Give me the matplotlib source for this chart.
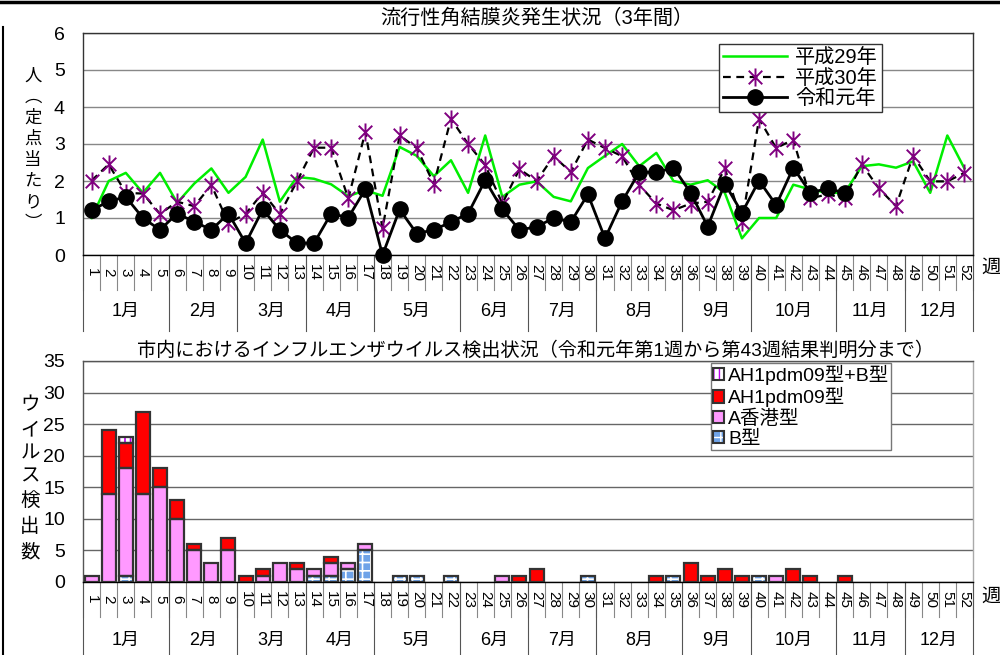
import matplotlib
matplotlib.use("Agg")
import matplotlib.pyplot as plt
from matplotlib.lines import Line2D
from matplotlib.patches import Patch
from matplotlib.path import Path
from matplotlib.transforms import blended_transform_factory

plt.rcParams['font.family'] = ['Liberation Sans', 'Noto Sans CJK JP']

# ---- data ----
weeks = list(range(1, 53))
months = ["1月", "2月", "3月", "4月", "5月", "6月",
          "7月", "8月", "9月", "10月", "11月", "12月"]
month_weeks = [5, 4, 4, 4, 5, 4, 4, 5, 4, 5, 4, 4]

# 流行性角結膜炎 (定点当たり)
h29 = [1.0, 2.0, 2.22, 1.68, 2.22, 1.41, 1.93, 2.34, 1.68, 2.11,
       3.12, 1.44, 2.11, 2.06, 1.91, 1.59, 1.75, 1.6, 2.92, 2.68,
       2.13, 2.56, 1.68, 3.23, 1.57, 1.9, 1.99, 1.57, 1.45, 2.35,
       2.68, 3.0, 2.4, 2.76, 2.0, 1.9, 2.02, 1.68, 0.45, 1.0,
       1.0, 1.9, 1.77, 1.68, 1.68, 2.4, 2.45, 2.36, 2.53, 1.68,
       3.23, 2.34]
h30 = [2.01, 2.45, 1.68, 1.66, 1.11, 1.44, 1.32, 1.89, 0.86, 1.11,
       1.68, 1.11, 1.99, 2.9, 2.9, 1.53, 3.33, 0.72, 3.23, 2.89,
       1.92, 3.68, 3.0, 2.43, 1.39, 2.32, 2.0, 2.67, 2.24, 3.12,
       2.89, 2.67, 1.89, 1.39, 1.21, 1.39, 1.44, 2.34, 0.89, 3.68,
       2.89, 3.12, 1.53, 1.64, 1.53, 2.45, 1.8, 1.32, 2.68, 1.99,
       1.99, 2.22]
r1 = [1.21, 1.45, 1.57, 1.0, 0.68, 1.12, 0.9, 0.68, 1.12, 0.32,
      1.23, 0.68, 0.32, 0.32, 1.12, 1.01, 1.78, 0.0, 1.23, 0.58,
      0.68, 0.89, 1.12, 2.02, 1.23, 0.68, 0.76, 1.0, 0.89, 1.64,
      0.45, 1.45, 2.24, 2.23, 2.36, 1.68, 0.77, 1.93, 1.14, 2.01,
      1.35, 2.36, 1.68, 1.8, 1.68]

# インフルエンザウイルス検出数
flu_b = [0, 0, 1, 0, 0, 0, 0, 0, 0, 0, 0, 0, 0, 1, 1, 2, 5, 0, 1, 1,
         0, 1, 0, 0, 0, 0, 0, 0, 0, 1, 0, 0, 0, 0, 1, 0, 0, 0, 0, 1,
         0, 0, 0, 0, 0, 0, 0, 0, 0, 0, 0, 0]
flu_hk = [1, 14, 17, 14, 15, 10, 5, 3, 5, 0, 1, 3, 2, 1, 2, 1, 1, 0, 0, 0,
          0, 0, 0, 0, 1, 0, 0, 0, 0, 0, 0, 0, 0, 0, 0, 0, 0, 0, 0, 0,
          1, 0, 0, 0, 0, 0, 0, 0, 0, 0, 0, 0]
flu_ah1 = [0, 10, 4, 13, 3, 3, 1, 0, 2, 1, 1, 0, 1, 0, 1, 0, 0, 0, 0, 0,
           0, 0, 0, 0, 0, 1, 2, 0, 0, 0, 0, 0, 0, 1, 0, 3, 1, 2, 1, 0,
           0, 2, 1, 0, 1, 0, 0, 0, 0, 0, 0, 0]
flu_ah1b = [0, 0, 1, 0, 0, 0, 0, 0, 0, 0, 0, 0, 0, 0, 0, 0, 0, 0, 0, 0,
            0, 0, 0, 0, 0, 0, 0, 0, 0, 0, 0, 0, 0, 0, 0, 0, 0, 0, 0, 0,
            0, 0, 0, 0, 0, 0, 0, 0, 0, 0, 0, 0]

W, H = 1000, 655
fig = plt.figure(figsize=(10, 6.55), dpi=100)


def px_axes(left, top, right, bottom):
    return fig.add_axes([left / W, 1 - bottom / H, (right - left) / W, (bottom - top) / H])


def week_axis(ax, band_px, month_px, height_px):
    tr = blended_transform_factory(ax.transData, ax.transAxes)
    wb = -band_px / height_px
    mb = -month_px / height_px
    for w in weeks:
        ax.text(w, wb / 2, str(w), rotation=-90, ha='center', va='center',
                fontsize=11, transform=tr, clip_on=False)
    for i in range(53):
        ax.plot([i + 0.5, i + 0.5], [0, wb], color='#888888', lw=0.8,
                transform=tr, clip_on=False)
    edge = 0.5
    ax.plot([edge, edge], [0, mb], color='#555555', lw=0.8, transform=tr, clip_on=False)
    for name, n in zip(months, month_weeks):
        ax.text(edge + n / 2, (wb + mb) / 2 - 0.005, name, ha='center', va='center',
                fontsize=13, transform=tr, clip_on=False)
        edge += n
        ax.plot([edge, edge], [0, mb], color='#555555', lw=0.8, transform=tr, clip_on=False)
    ax.set_xticks([])


# ---------------- top chart ----------------
ax1 = px_axes(83, 33, 973, 255)
ax1.set_xlim(0.5, 52.5)
ax1.set_ylim(0, 6)
ax1.set_yticks(range(0, 7))
ax1.tick_params(axis='y', length=0, labelsize=14, pad=13)
ax1.grid(axis='y', color='#888888', lw=1)
ax1.set_axisbelow(True)
for s in ax1.spines.values():
    s.set_color('#333333')
    s.set_linewidth(1)
ax1.spines['bottom'].set_color('black')

star = Path([(0, -1), (0, 1), (-0.75, -0.75), (0.75, 0.75), (-0.75, 0.75), (0.75, -0.75)],
            [Path.MOVETO, Path.LINETO, Path.MOVETO, Path.LINETO, Path.MOVETO, Path.LINETO])

l29, = ax1.plot(weeks, h29, color='#00EE00', lw=1.8, zorder=3)
l30, = ax1.plot(weeks, h30, color='black', lw=1.6, ls=(0, (3.5, 2.5)), marker=star,
                markersize=13, markeredgecolor='#800080', markerfacecolor='none',
                markeredgewidth=1.4, zorder=4)
lr1, = ax1.plot(weeks[:len(r1)], r1, color='black', lw=2, marker='o', markersize=11,
                markerfacecolor='black', zorder=5, clip_on=False)
week_axis(ax1, 35, 76, 222)

leg1 = ax1.legend([l29, l30, lr1], ["平成29年", "平成30年", "令和元年"],
                  loc='upper left', bbox_to_anchor=(0.703, 0.995), fontsize=14.5,
                  frameon=True, fancybox=False, edgecolor='#333333', framealpha=1,
                  handlelength=3.2, borderpad=0.2, labelspacing=0.08, handletextpad=0.4)
leg1.get_frame().set_linewidth(1)

fig.text(0.537, 1 - 18 / H, "流行性角結膜炎発生状況（3年間）", ha='center', va='center', fontsize=14.5)
fig.text(981 / W, 1 - 268 / H, "週", ha='left', va='center', fontsize=14)
for ch, y in zip(["人", "︵", "定", "点", "当", "た", "り", "︶"],
                 [76, 97, 118, 139, 160, 181, 202, 223]):
    fig.text(33 / W, 1 - y / H, ch, ha='center', va='center', fontsize=12.5,
             family='Noto Sans CJK JP')

# ---------------- bottom chart ----------------
ax2 = px_axes(83, 361, 973, 582)
ax2.set_xlim(0.5, 52.5)
ax2.set_ylim(0, 35)
ax2.set_yticks(range(0, 36, 5))
ax2.tick_params(axis='y', length=0, labelsize=14, pad=13)
ax2.grid(axis='y', color='#666666', lw=1)
ax2.set_axisbelow(True)
for s in ax2.spines.values():
    s.set_color('#555555')
    s.set_linewidth(1)
ax2.spines['bottom'].set_color('black')
ax2.spines['right'].set_color('#aaaaaa')

bar_w = 0.82
edge_c = '#333333'
series = [
    (flu_b, '#6FA3E8', '++', 'white'),
    (flu_hk, '#FF99FF', None, None),
    (flu_ah1, '#FF0000', None, None),
    (flu_ah1b, 'white', '|||', '#BB00EE'),
]
bottom = [0] * 52
handles = []
for vals, fc, hatch, hc in series:
    xs = [w for w, v in zip(weeks, vals) if v > 0]
    hs = [v for v in vals if v > 0]
    bs = [b for b, v in zip(bottom, vals) if v > 0]
    if hatch:
        with plt.rc_context({'hatch.color': hc, 'hatch.linewidth': 1.2}):
            ax2.bar(xs, hs, bottom=bs, width=bar_w, color=fc, hatch=hatch, zorder=2)
            hp = Patch(facecolor=fc, hatch=hatch)
        handles.append((hp, Patch(fill=False, edgecolor=edge_c, lw=1.5)))
    else:
        ax2.bar(xs, hs, bottom=bs, width=bar_w, color=fc, zorder=2)
        handles.append(Patch(facecolor=fc, edgecolor=edge_c, lw=1.5))
    ax2.bar(xs, hs, bottom=bs, width=bar_w, fill=False, edgecolor=edge_c, lw=1.6, zorder=3)
    bottom = [b + v for b, v in zip(bottom, vals)]

week_axis(ax2, 35, 80, 221)

leg2 = ax2.legend(handles[::-1], ["AH1pdm09型+B型", "AH1pdm09型", "A香港型", "B型"],
                  loc='upper left', bbox_to_anchor=(0.703, 1.0), fontsize=14,
                  frameon=True, fancybox=False, edgecolor='#777777', framealpha=1,
                  handlelength=0.6, handleheight=0.6, borderpad=0.1, labelspacing=0.12,
                  handletextpad=0.2, borderaxespad=0.1)
leg2.get_frame().set_linewidth(1)

fig.text(0.535, 1 - 350 / H,
         "市内におけるインフルエンザウイルス検出状況（令和元年第1週から第43週結果判明分まで）",
         ha='center', va='center', fontsize=13.8)
fig.text(981 / W, 1 - 597 / H, "週", ha='left', va='center', fontsize=14)
for ch, y in zip("ウイルス検出数", [405, 430, 453, 476, 500, 526, 552]):
    fig.text(30 / W, 1 - y / H, ch, ha='center', va='center', fontsize=14,
             family='Noto Sans CJK JP')

# outer frame lines
fig.add_artist(Line2D([0, 1], [1 - 2 / H, 1 - 2 / H], color='black', lw=2.5))
fig.add_artist(Line2D([3 / W, 3 / W], [0, 1 - 27 / H], color='black', lw=1.5))

fig.savefig("out.png", dpi=100)
